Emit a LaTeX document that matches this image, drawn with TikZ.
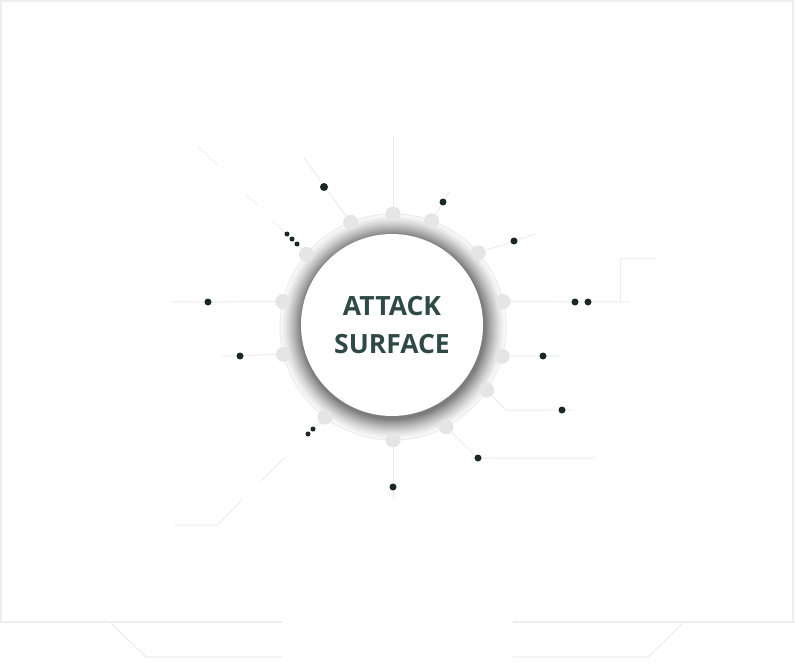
\documentclass[tikz,border=0pt]{standalone}
\usepackage{fontspec}
\setmainfont{Open Sans}
\newfontfamily\titlefont{Open Sans}
\usepackage{xcolor}
\usepackage{tikz}
\usetikzlibrary{positioning}

\definecolor{tracegray}{HTML}{ECECEC}
\definecolor{ringgray}{HTML}{E5E5E5}
\definecolor{framegray}{HTML}{EEEEEE}
\definecolor{pindark}{HTML}{1B2828}
\definecolor{titleteal}{HTML}{2E4A47}

\begin{document}
\begin{tikzpicture}[
    x=1pt, y=-1pt,
    trace/.style={draw=tracegray, line width=1pt},
    frameline/.style={draw=framegray, line width=1.5pt},
    ringdot/.style={circle, fill=ringgray, minimum size=15pt, inner sep=0pt},
    pin/.style={circle, fill=pindark, minimum size=7pt, inner sep=0pt},
    pinsmall/.style={pin, minimum size=5pt},
    core/.style={circle, fill=white, minimum size=182pt, inner sep=0pt,
        font=\titlefont\bfseries\fontsize{26.5}{38}\selectfont, text=titleteal, align=center}
]
\useasboundingbox (0,0) rectangle (795,666);

% Shadow ring round the core
\coordinate (hub) at (393,327);
\foreach \i in {0,...,24} {
    \pgfmathsetmacro\lvl{1+50*(\i/24)^1.4}
    \pgfmathsetmacro\rad{114-\i*0.9}
    \fill[black!\lvl] (hub) circle[radius=\rad pt];
}

% Core with the title
\node[core] (surface) at (392,325) {ATTACK\\SURFACE};

% Thin ring and its dots
\draw[trace] (hub) circle[radius=113pt];
\foreach \n/\a in {1/90, 2/112, 3/70, 4/140, 5/41, 6/167, 7/13,
                   8/194, 9/-15, 10/-34, 11/-62, 12/-90, 13/233} {
    \node[ringdot] (g\n) at ([shift={(\a:113pt)}]hub) {};
}

% Upper traces
\coordinate (t1) at (393,135);
\draw[trace] (g1) -- (t1);

\coordinate (t2) at (304,158);
\draw[trace] (g2) -- (t2);
\node[pin, minimum size=8pt] (p2) at (324,187) {};

\coordinate (t3) at (450,191);
\draw[trace] (g3) -- (t3);
\node[pin] (p3) at (443,202) {};

\coordinate (t5) at (535,234);
\draw[trace] (g5) -- (t5);
\node[pin] (p5) at (514,241) {};

% Upper left, broken diagonal
\coordinate (t4a) at (273,221);
\coordinate (t4b) at (257,205);
\coordinate (t4c) at (246,194);
\coordinate (t4d) at (217,165);
\coordinate (t4e) at (198,146);
\draw[trace] (g4) -- (t4a);
\draw[trace] (t4b) -- (t4c);
\draw[trace] (t4d) -- (t4e);
\node[pinsmall] (p4a) at (287,234) {};
\node[pinsmall] (p4b) at (292,239) {};
\node[pinsmall] (p4c) at (297,244) {};

% Right traces
\coordinate (t7) at (630,302);
\coordinate (t7a) at (620,302);
\coordinate (t7b) at (657,258);
\draw[trace] (g7) -- (t7);
\draw[trace] (t7a) |- (t7b);
\node[pin] (p7a) at (575,302) {};
\node[pin] (p7b) at (588,302) {};

\coordinate (t9) at (560,356);
\draw[trace] (g9) -- (t9);
\node[pin] (p9) at (543,356) {};

\coordinate (t10a) at (506,410);
\coordinate (t10b) at (572,410);
\draw[trace] (g10) -- (t10a) -- (t10b);
\node[pin] (p10) at (562,410) {};

\coordinate (t11a) at (478,458);
\coordinate (t11b) at (595,458);
\draw[trace] (g11) -- (t11a) -- (t11b);
\node[pin] (p11) at (478,458) {};

% Bottom trace
\coordinate (t12) at (393,500);
\draw[trace] (g12) -- (t12);
\node[pin] (p12) at (393,487) {};

% Left traces
\coordinate (t6) at (172,302);
\draw[trace] (g6) -- (t6);
\node[pin] (p6) at (208,302) {};

\coordinate (t8) at (222,356);
\draw[trace] (g8) -- (t8);
\node[pin] (p8) at (240,356) {};

% Lower left, broken diagonal
\coordinate (t13a) at (303,439);
\coordinate (t13b) at (285,457);
\coordinate (t13c) at (260,482);
\coordinate (t13d) at (242,500);
\coordinate (t13e) at (217,525);
\coordinate (t13f) at (174,525);
\draw[trace] (g13) -- (t13a);
\draw[trace] (t13b) -- (t13c);
\draw[trace] (t13d) -- (t13e) -- (t13f);
\node[pinsmall] (p13a) at (308,434) {};
\node[pinsmall] (p13b) at (313,429) {};

% Frame
\draw[frameline] (0,622) -- (282,622);
\draw[frameline] (513,622) -- (795,622);
\draw[frameline] (1,622) -- (1,1) -- (793,1) -- (793,622);
\draw[frameline, line width=1.2pt] (110,622) -- (146,657) -- (282,657);
\draw[frameline, line width=1.2pt] (684,622) -- (648,657) -- (513,657);

\end{tikzpicture}
\end{document}
